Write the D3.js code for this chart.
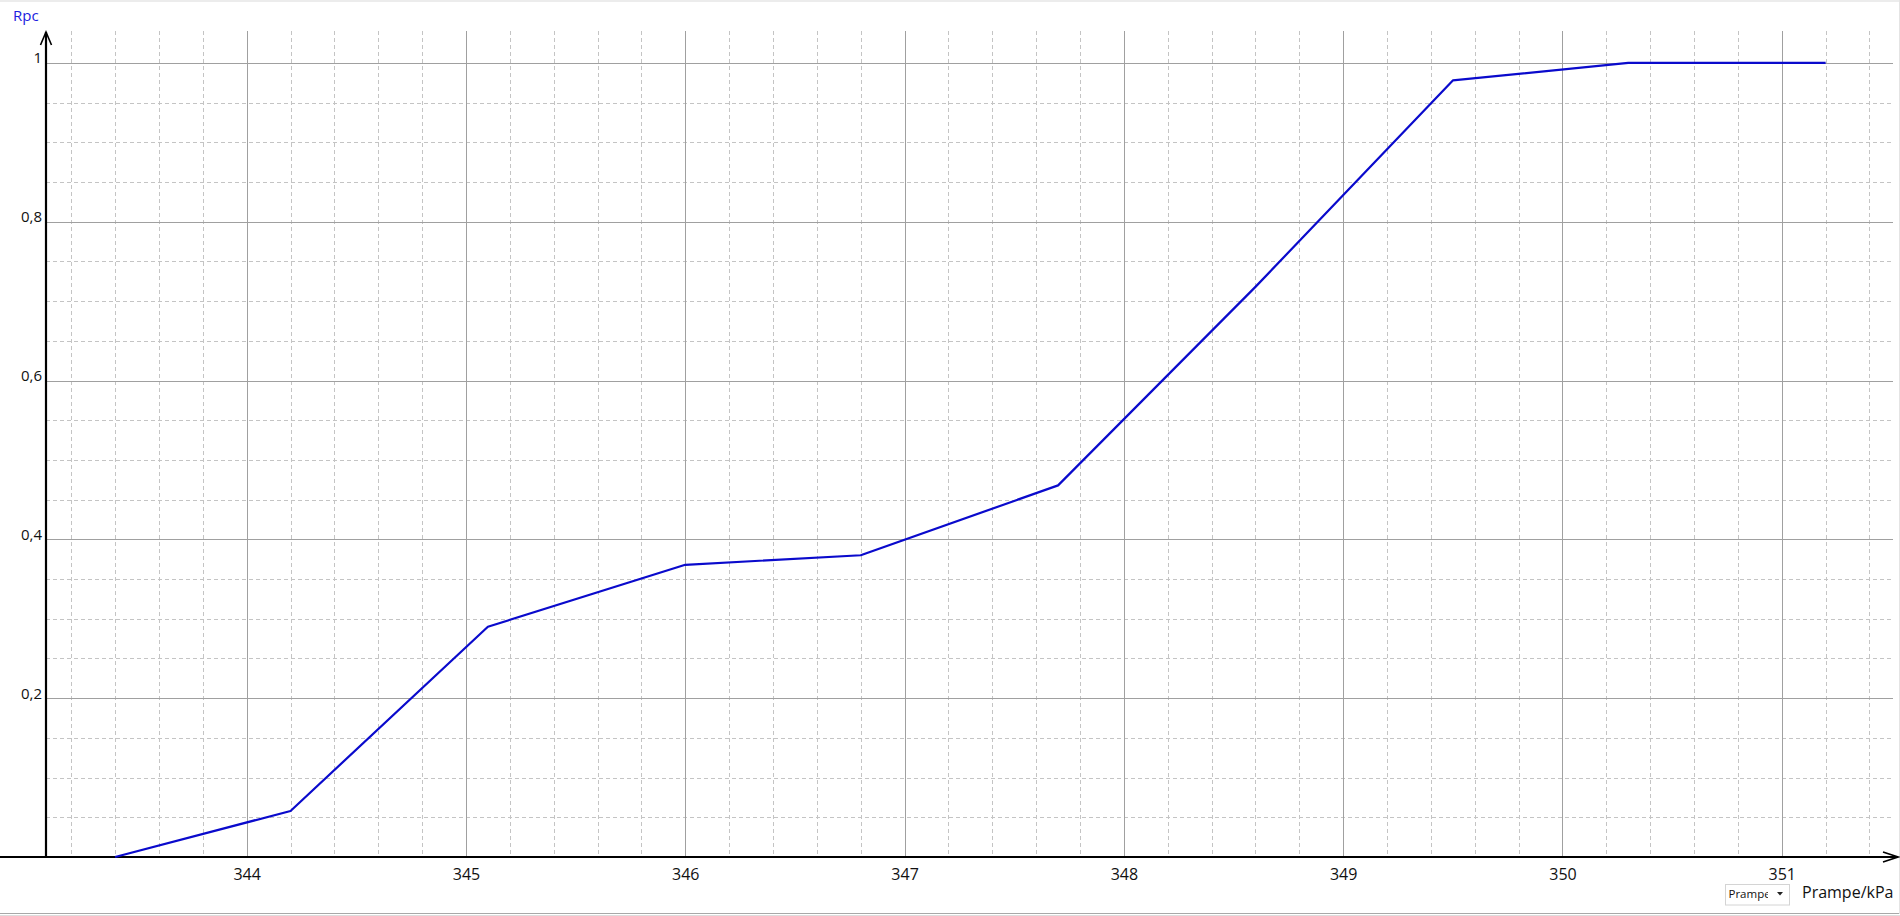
<!DOCTYPE html>
<html>
<head>
<meta charset="utf-8">
<script src="https://cdn.jsdelivr.net/npm/d3@7"></script>
<style>
  html, body { margin: 0; padding: 0; background: #fff; overflow: hidden; }
  svg { display: block; }
</style>
</head>
<body>
<svg id="chart"></svg>
<script>
// DATA
const pressures = [343.4, 344.2, 345.1, 346.0, 346.8, 347.7, 348.6, 349.5, 350.3, 351.2];
const rpcValues = [0, 0.058, 0.29, 0.368, 0.38, 0.468, 0.718, 0.978, 1.0, 1.0];
const xTicks = [344, 345, 346, 347, 348, 349, 350, 351];
const yTicks = [0.2, 0.4, 0.6, 0.8, 1];
const xTitle = "Prampe/kPa";
const yTitle = "Rpc";
const selectorLabel = "Prampe";

const W = 1900, H = 916;
const svg = d3.select("#chart").attr("width", W).attr("height", H);

// frame of the window
svg.append("rect").attr("x", 0).attr("y", 0).attr("width", W).attr("height", 2).attr("fill", "#ececec");
svg.append("line").attr("x1", 0).attr("x2", W).attr("y1", 913.5).attr("y2", 913.5).attr("stroke", "#a8a8a8");
svg.append("line").attr("x1", 0).attr("x2", W).attr("y1", 915.5).attr("y2", 915.5).attr("stroke", "#dcdcdc");
svg.append("line").attr("x1", 1899.5).attr("x2", 1899.5).attr("y1", 0).attr("y2", 914).attr("stroke", "#e4e4e4");

// scales
const x = d3.scaleLinear().domain([343.085, 351.53]).range([46, 1898]);
const y = d3.scaleLinear().domain([0, 1.039]).range([857, 32]);

const gridTop = 31, gridRight = 1893;

// minor grid (dashed): every 0.2 kPa and every 0.05 of Rpc
const minorX = d3.range(1716, 1758).map(i => i / 5).filter(v => Math.abs(v - Math.round(v)) > 1e-6);
const minorY = d3.range(1, 21).map(i => i / 20).filter(v => Math.abs(v * 5 - Math.round(v * 5)) > 1e-6);

const grid = svg.append("g").attr("shape-rendering", "crispEdges");
grid.selectAll("line.mx").data(minorX).enter().append("line")
    .attr("x1", d => Math.round(x(d)) + 0.5).attr("x2", d => Math.round(x(d)) + 0.5)
    .attr("y1", gridTop).attr("y2", y(0))
    .attr("stroke", "#c4c4c4").attr("stroke-dasharray", "4,3");
grid.selectAll("line.my").data(minorY).enter().append("line")
    .attr("x1", 46).attr("x2", gridRight)
    .attr("y1", d => Math.round(y(d)) + 0.5).attr("y2", d => Math.round(y(d)) + 0.5)
    .attr("stroke", "#c4c4c4").attr("stroke-dasharray", "4,3");

// major grid (solid)
grid.selectAll("line.MX").data(xTicks).enter().append("line")
    .attr("x1", d => Math.round(x(d)) + 0.5).attr("x2", d => Math.round(x(d)) + 0.5)
    .attr("y1", gridTop).attr("y2", y(0))
    .attr("stroke", "#a0a0a0");
grid.selectAll("line.MY").data(yTicks).enter().append("line")
    .attr("x1", 46).attr("x2", gridRight)
    .attr("y1", d => Math.round(y(d)) + 0.5).attr("y2", d => Math.round(y(d)) + 0.5)
    .attr("stroke", "#a0a0a0");

// tick labels through d3 axes
const xAxis = svg.append("g")
    .attr("transform", `translate(0, ${y(0)})`)
    .call(d3.axisBottom(x).tickValues(xTicks).tickSize(0).tickPadding(12).tickFormat(d3.format("d")));
xAxis.select(".domain").remove();
xAxis.selectAll("text")
    .attr("font-family", "'Open Sans', sans-serif").attr("font-size", "16px").attr("fill", "#111");

const yAxis = svg.append("g")
    .attr("transform", `translate(46, 0)`)
    .call(d3.axisLeft(y).tickValues(yTicks).tickSize(0).tickPadding(4)
        .tickFormat(d => String(d).replace(".", ",")));
yAxis.select(".domain").remove();
yAxis.selectAll("text")
    .attr("dy", "0")
    .attr("font-family", "'Open Sans', sans-serif").attr("font-size", "15px").attr("fill", "#111");

// axis lines with open arrow heads
const axes = svg.append("g").attr("stroke", "#000").attr("fill", "none").attr("stroke-width", 2.2);
axes.append("line").attr("x1", 0).attr("x2", 1898).attr("y1", y(0)).attr("y2", y(0));
axes.append("line").attr("x1", 46).attr("x2", 46).attr("y1", y(0)).attr("y2", 32);
axes.append("path").attr("stroke-width", 1.6).attr("d", "M40.5,45 L46,32 L51.5,45");
axes.append("path").attr("stroke-width", 1.6).attr("d", `M1883,${y(0) - 5} L1898,${y(0)} L1883,${y(0) + 5}`);

// data line
const line = d3.line()
    .x((d, i) => x(pressures[i]))
    .y(d => y(d));
svg.append("path")
    .datum(rpcValues)
    .attr("fill", "none")
    .attr("stroke", "#0a0acc")
    .attr("stroke-width", 2.2)
    .attr("stroke-linejoin", "round")
    .attr("d", line);

// titles
svg.append("text")
    .attr("x", 13).attr("y", 20.5)
    .attr("font-family", "'Open Sans', sans-serif").attr("font-size", "15px")
    .attr("fill", "#1c1ce0")
    .text(yTitle);

svg.append("text")
    .attr("x", 1802).attr("y", 897.5)
    .attr("font-family", "'Open Sans', sans-serif").attr("font-size", "16px")
    .attr("fill", "#111")
    .text(xTitle);

// little selector box
const sel = svg.append("g");
sel.append("rect")
    .attr("x", 1725.5).attr("y", 884.5).attr("width", 64).attr("height", 20.5)
    .attr("fill", "#fff").attr("stroke", "#d4d4d4");
svg.append("clipPath").attr("id", "selClip")
    .append("rect").attr("x", 1726).attr("y", 885).attr("width", 42).attr("height", 20);
sel.append("text")
    .attr("x", 1728.5).attr("y", 898)
    .attr("clip-path", "url(#selClip)")
    .attr("font-family", "'Open Sans', sans-serif").attr("font-size", "11.5px")
    .attr("fill", "#111")
    .text(selectorLabel);
sel.append("path")
    .attr("d", "M1777,892 L1783,892 L1780,895.5 Z")
    .attr("fill", "#222");
</script>
</body>
</html>
